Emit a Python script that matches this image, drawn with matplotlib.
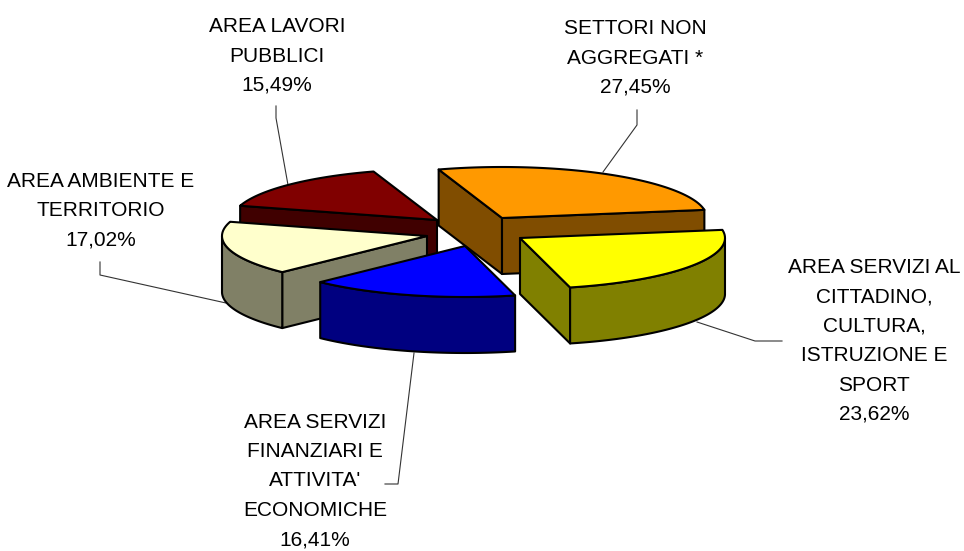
import numpy as np
import matplotlib
matplotlib.use("Agg")
import matplotlib.pyplot as plt
from matplotlib.patches import Polygon

plt.rcParams['font.family'] = ['Liberation Sans', 'DejaVu Sans']

# data, clockwise from the start angle
categories = ["SETTORI NON\nAGGREGATI *",
              "AREA SERVIZI AL\nCITTADINO,\nCULTURA,\nISTRUZIONE E\nSPORT",
              "AREA SERVIZI\nFINANZIARI E\nATTIVITA'\nECONOMICHE",
              "AREA AMBIENTE E\nTERRITORIO",
              "AREA LAVORI\nPUBBLICI"]
values = [27.45, 23.62, 16.41, 17.02, 15.49]

# style and layout
top_colors = ['#FF9900', '#FFFF00', '#0000FF', '#FFFFCC', '#800000']
side_colors = ['#804D00', '#808000', '#000080', '#808066', '#400000']
apexes = [(502, 218), (520, 238), (465, 246), (427, 236), (437, 220)]
label_pos = [(635, 58), (874, 341), (315, 481), (101, 211), (277, 56)]
leaders = [[(637, 110), (637, 125), (603, 172)],
           [(782, 341), (755, 341), (697, 322)],
           [(385, 484), (398, 484), (414, 353)],
           [(100, 262), (100, 275), (226, 303)],
           [(276, 106), (276, 118), (288, 185)]]
draw_order = [4, 0, 3, 1, 2]
start_angle = 108.0
RX, RY, DEPTH = 205.0, 51.0, 56.0

fig = plt.figure(figsize=(9.64, 5.51), dpi=100)
ax = fig.add_axes([0, 0, 1, 1])
ax.set_xlim(0, 964)
ax.set_ylim(551, 0)
ax.axis('off')

edges = start_angle - np.cumsum([0] + values) * 3.6
EDGE = dict(edgecolor='black', linewidth=1.5, joinstyle='round')


def arc(apex, a0, a1, n=80):
    t = np.radians(np.linspace(a0, a1, n))
    return np.column_stack([apex[0] + RX * np.cos(t), apex[1] - RY * np.sin(t)])


def down(pts):
    return np.asarray(pts) + [0, DEPTH]


z = 2
for i in draw_order:
    a0, a1 = edges[i], edges[i + 1]
    apex = np.array(apexes[i], float)
    rim = arc(apex, a0, a1)
    # cut faces, only those that turn towards the viewer
    faces = []
    if np.cos(np.radians(a0)) < 0:
        faces.append(rim[0])
    if np.cos(np.radians(a1)) > 0:
        faces.append(rim[-1])
    for end in faces:
        q = np.array([apex, end])
        ax.add_patch(Polygon(np.vstack([q, down(q)[::-1]]), closed=True,
                             facecolor=side_colors[i], zorder=z, **EDGE))
        z += 1
    # outer wall: only the part of the rim on the near side of the ellipse
    t = np.linspace(a0, a1, 160)
    near = np.sin(np.radians(t)) <= 0
    if near.any():
        w = arc(apex, t[near][0], t[near][-1])
        ax.add_patch(Polygon(np.vstack([w, down(w)[::-1]]), closed=True,
                             facecolor=side_colors[i], zorder=z, **EDGE))
        z += 1
    # top face
    ax.add_patch(Polygon(np.vstack([apex, rim]), closed=True,
                         facecolor=top_colors[i], zorder=z, **EDGE))
    z += 1

for cat, val, pos, lead in zip(categories, values, label_pos, leaders):
    txt = f"{cat}\n{val:.2f}%".replace('.', ',')
    ax.text(pos[0], pos[1], txt, ha='center', va='center', fontsize=15,
            linespacing=1.69, color='black', zorder=100)
    xs, ys = zip(*lead)
    ax.plot(xs, ys, color='#333333', lw=0.8, zorder=1)

fig.savefig('out.png', dpi=100)
